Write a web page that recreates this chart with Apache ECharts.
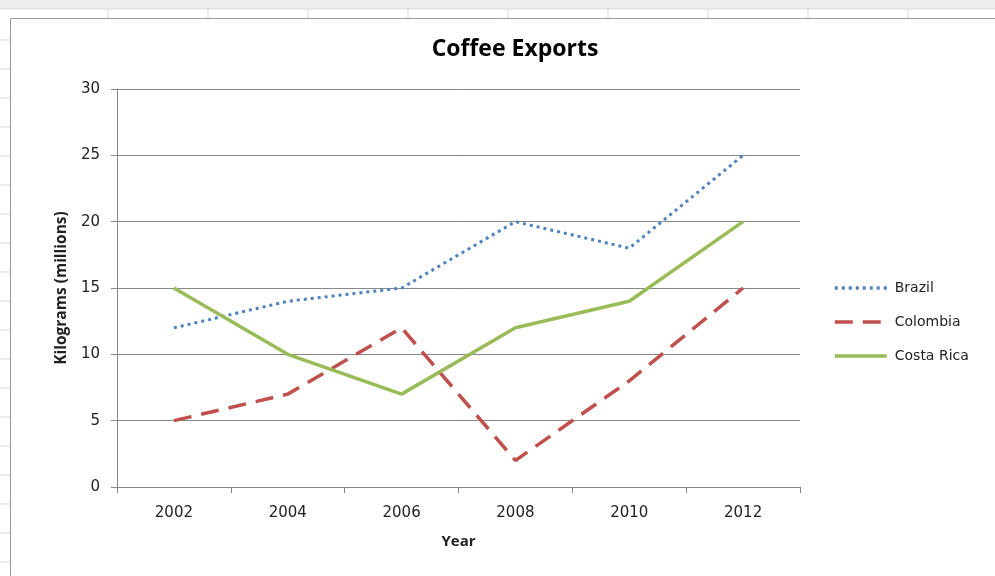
<!DOCTYPE html>
<html><head><meta charset="utf-8">
<script src="https://cdn.jsdelivr.net/npm/echarts@6/dist/echarts.min.js"></script>
<style>html,body{margin:0;padding:0;background:#fff}#c{width:995px;height:576px}</style>
</head><body><div id="c"></div>
<script>
var years = ['2002','2004','2006','2008','2010','2012'];
var brazil = [12,14,15,20,18,25];
var colombia = [5,7,12,2,8,15];
var costaRica = [15,10,7,12,14,20];

var chart = echarts.init(document.getElementById('c'));
var font = '"Open Sans", "Noto Sans", sans-serif';
var wide = '"DejaVu Sans", Verdana, sans-serif';
var g = [];
// spreadsheet background
g.push({type:'rect', shape:{x:0,y:0,width:995,height:9}, style:{fill:'#eeeeee'}, silent:true});
[108,208,308,408,508,608,708,808,908].forEach(function(x){
  g.push({type:'line', shape:{x1:x,y1:9,x2:x,y2:18}, style:{stroke:'#d8d8d8',lineWidth:1}, silent:true});
});
g.push({type:'line', shape:{x1:0,y1:9,x2:995,y2:9}, style:{stroke:'#d8d8d8',lineWidth:1}, silent:true});
for (var yy = 40; yy < 576; yy += 29) {
  g.push({type:'line', shape:{x1:0,y1:yy,x2:10,y2:yy}, style:{stroke:'#d8d8d8',lineWidth:1}, silent:true});
}
g.push({type:'rect', shape:{x:10.5,y:18.5,width:990,height:570}, style:{fill:'none',stroke:'#9a9a9a',lineWidth:1}, silent:true, z:-1});

chart.setOption({
  backgroundColor:'#ffffff',
  animation:false,
  graphic:g,
  title:{text:'Coffee Exports', left:510, top:33, textAlign:'center',
    textStyle:{fontFamily:font, fontSize:23, fontWeight:'bold', color:'#000'}},
  grid:{left:117, right:195, top:89, bottom:89},
  legend:{orient:'vertical', left:828, top:276, itemWidth:52, itemHeight:16, itemGap:20,
    itemStyle:{opacity:0},
    lineStyle:{width:3.5},
    textStyle:{fontFamily:wide, fontSize:14, color:'#222', padding:[0,0,0,3]},
    data:['Brazil','Colombia','Costa Rica']},
  xAxis:{type:'category', data:years, boundaryGap:true,
    name:'Year', nameLocation:'middle', nameGap:47,
    nameTextStyle:{fontFamily:font, fontSize:15, fontWeight:'bold', color:'#222'},
    axisLine:{lineStyle:{color:'#888', width:1}},
    axisTick:{show:true, alignWithLabel:false, length:6, lineStyle:{color:'#888'}},
    axisLabel:{fontFamily:wide, fontSize:15, color:'#222', margin:19},
    splitLine:{show:false}},
  yAxis:{type:'value', min:0, max:30, interval:5,
    name:'Kilograms (millions)', nameLocation:'middle', nameGap:46, nameRotate:90,
    nameTextStyle:{fontFamily:font, fontSize:15.5, fontWeight:'bold', color:'#222'},
    axisLine:{show:true, lineStyle:{color:'#888', width:1}},
    axisTick:{show:true, length:6, lineStyle:{color:'#888'}},
    axisLabel:{fontFamily:wide, fontSize:15, color:'#222', margin:17},
    splitLine:{show:true, lineStyle:{color:'#888', width:1}}},
  series:[
    {name:'Brazil', type:'line', data:brazil, symbol:'none', color:'#4F81BD',
      lineStyle:{color:'#4F81BD', width:3, type:[3,4]}},
    {name:'Colombia', type:'line', data:colombia, symbol:'none', color:'#C0504D',
      lineStyle:{color:'#C0504D', width:3.5, type:[18,10]}},
    {name:'Costa Rica', type:'line', data:costaRica, symbol:'none', color:'#9BBB59',
      lineStyle:{color:'#9BBB59', width:3.5, type:'solid'}}
  ]
});
</script></body></html>
